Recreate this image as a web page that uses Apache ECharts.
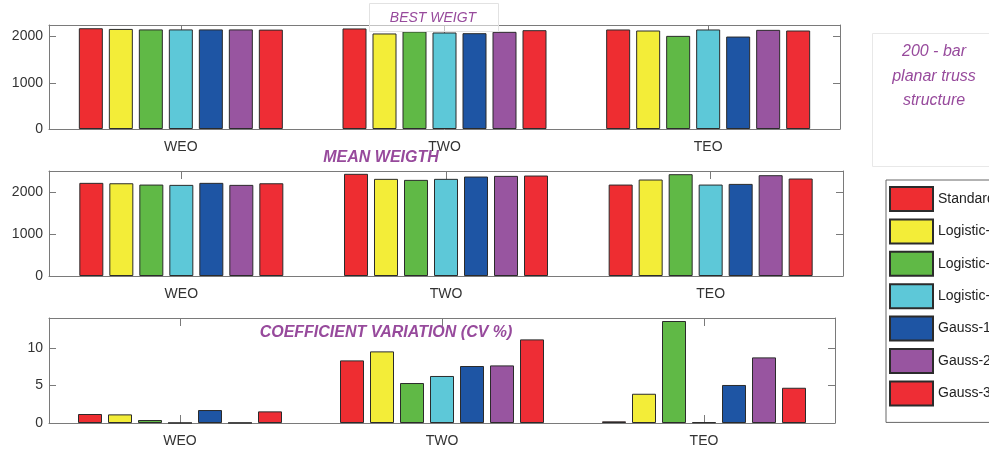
<!DOCTYPE html>
<html>
<head>
<meta charset="utf-8">
<script src="https://cdn.jsdelivr.net/npm/echarts@6/dist/echarts.min.js"></script>
<style>
html,body{margin:0;padding:0;background:#fff;}
#chart{width:989px;height:450px;}
</style>
</head>
<body>
<div id="chart"></div>
<script>
const categories = ['WEO', 'TWO', 'TEO'];
const methodNames = ['Standard', 'Logistic-1', 'Logistic-2', 'Logistic-3', 'Gauss-1', 'Gauss-2', 'Gauss-3'];
const methodColors = ['#ee2d31', '#f3ed38', '#60b946', '#5dc8d8', '#1e55a4', '#9855a0', '#ee2d35'];

// BEST WEIGT panel (per category, one value per method)
const bestWEO = [2180, 2165, 2155, 2155, 2155, 2155, 2150];
const bestTWO = [2175, 2067, 2110, 2088, 2073, 2102, 2138];
const bestTEO = [2153, 2131, 2015, 2153, 2000, 2145, 2131];

// MEAN WEIGTH panel
const meanWEO = [2218, 2208, 2177, 2170, 2218, 2170, 2208];
const meanTWO = [2433, 2313, 2289, 2313, 2368, 2384, 2392];
const meanTEO = [2177, 2297, 2424, 2177, 2193, 2400, 2321];

// COEFFICIENT VARIATION panel
const cvWEO = [1.2, 1.15, 0.4, 0.02, 1.73, 0.03, 1.55];
const cvTWO = [8.35, 9.55, 5.33, 6.27, 7.6, 7.68, 11.15];
const cvTEO = [0.22, 3.9, 13.6, 0.1, 5.07, 8.75, 4.7];

const FONT = 'Liberation Sans, Arial, Helvetica, sans-serif';
const FRAME = '#7a7a7a';
const PURPLE = '#974a9c';

const panels = [
  {rows: [bestWEO, bestTWO, bestTEO], max: 2250, interval: 1000, grid: {left: 49, right: 149, top: 25, height: 104}},
  {rows: [meanWEO, meanTWO, meanTEO], max: 2500, interval: 1000, grid: {left: 49, right: 146, top: 171, height: 105}},
  {rows: [cvWEO, cvTWO, cvTEO], max: 14, interval: 5, grid: {left: 49, right: 154, top: 318, height: 105}}
];

const grids = [], xAxes = [], yAxes = [], series = [];
panels.forEach((p, gi) => {
  grids.push(Object.assign({show: false}, p.grid));
  const xBase = {
    type: 'category', gridIndex: gi, data: categories,
    axisLine: {show: true, onZero: false, lineStyle: {color: FRAME, width: 1}},
    axisTick: {show: true, inside: true, length: 8, alignWithLabel: true, lineStyle: {color: FRAME}},
    splitLine: {show: false}
  };
  xAxes.push(Object.assign({}, xBase, {position: 'bottom',
    axisLabel: {show: true, color: '#333', fontFamily: FONT, fontSize: 14, margin: 11}}));
  xAxes.push(Object.assign({}, xBase, {position: 'top', axisLabel: {show: false}}));
  const yBase = {
    type: 'value', gridIndex: gi, min: 0, max: p.max, interval: p.interval,
    axisLine: {show: true, onZero: false, lineStyle: {color: FRAME, width: 1}},
    axisTick: {show: true, inside: true, length: 7, lineStyle: {color: FRAME}},
    splitLine: {show: false}
  };
  yAxes.push(Object.assign({}, yBase, {position: 'left',
    axisLabel: {show: true, color: '#333', fontFamily: FONT, fontSize: 14, margin: 6, showMaxLabel: false,
      formatter: v => String(v)}}));
  yAxes.push(Object.assign({}, yBase, {position: 'right', axisLabel: {show: false}}));
  methodNames.forEach((name, mi) => {
    series.push({
      type: 'bar', name: name,
      xAxisIndex: gi * 2, yAxisIndex: gi * 2,
      data: p.rows.map(r => r[mi]),
      barWidth: 24, barGap: '25%',
      itemStyle: {color: methodColors[mi], borderColor: '#2b2b2b', borderWidth: 1},
      emphasis: {disabled: true},
      animation: false
    });
  });
});

const chart = echarts.init(document.getElementById('chart'), null, {renderer: 'canvas'});
chart.setOption({
  backgroundColor: '#ffffff',
  animation: false,
  grid: grids,
  xAxis: xAxes,
  yAxis: yAxes,
  series: series,
  legend: {
    orient: 'vertical', left: 886, top: 180,
    data: methodNames,
    itemWidth: 43, itemHeight: 24, itemGap: 6.4,
    icon: 'rect',
    padding: [6, 40, 16, 3],
    borderColor: '#666', borderWidth: 1,
    selectedMode: false,
    textStyle: {color: '#222', fontFamily: FONT, fontSize: 14}
  },
  graphic: [
    {type: 'rect', shape: {x: 369.5, y: 3.5, width: 129, height: 28}, style: {fill: 'rgba(255,255,255,0.55)', stroke: '#e2e2e2', lineWidth: 1}, z: 100},
    {type: 'text', x: 433, y: 18, style: {text: 'BEST WEIGT', fill: PURPLE, font: 'italic 14px ' + FONT, textAlign: 'center', textVerticalAlign: 'middle'}, z: 101},
    {type: 'text', x: 381, y: 158, style: {text: 'MEAN WEIGTH', fill: PURPLE, font: 'italic bold 16px ' + FONT, textAlign: 'center', textVerticalAlign: 'middle'}, z: 101},
    {type: 'text', x: 386, y: 333, style: {text: 'COEFFICIENT VARIATION (CV %)', fill: PURPLE, font: 'italic bold 16px ' + FONT, textAlign: 'center', textVerticalAlign: 'middle'}, z: 101},
    {type: 'rect', shape: {x: 872.5, y: 33.5, width: 140, height: 133}, style: {fill: '#fff', stroke: '#e8e8e8', lineWidth: 1}, z: 90},
    {type: 'text', x: 934, y: 52, style: {text: '200 - bar', fill: PURPLE, font: 'italic 16px ' + FONT, textAlign: 'center', textVerticalAlign: 'middle'}, z: 101},
    {type: 'text', x: 934, y: 77, style: {text: 'planar truss', fill: PURPLE, font: 'italic 16px ' + FONT, textAlign: 'center', textVerticalAlign: 'middle'}, z: 101},
    {type: 'text', x: 934, y: 101, style: {text: 'structure', fill: PURPLE, font: 'italic 16px ' + FONT, textAlign: 'center', textVerticalAlign: 'middle'}, z: 101}
  ]
});
</script>
</body>
</html>
